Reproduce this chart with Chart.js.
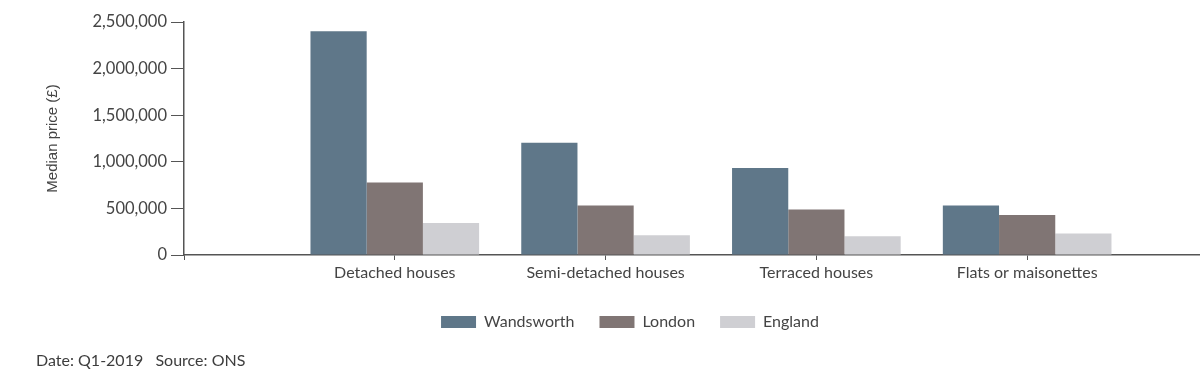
<!DOCTYPE html>
<html>
<head>
<meta charset="utf-8">
<script src="https://cdn.jsdelivr.net/npm/chart.js@4.4.1/dist/chart.umd.min.js"></script>
<style>
  html, body { margin: 0; padding: 0; background: #fff; }
  #wrap { position: relative; width: 1200px; height: 382px; }
  #footer { position: absolute; left: 36px; top: 350px; font-family: Lato, sans-serif; font-size: 16px; color: #3d3d3d; white-space: pre; }
</style>
</head>
<body>
<div id="wrap">
  <canvas id="c" width="1200" height="382"></canvas>
  <div id="footer">Date: Q1-2019   Source: ONS</div>
</div>
<script>
const categories = ['Detached houses', 'Semi-detached houses', 'Terraced houses', 'Flats or maisonettes'];
const wandsworth = [2400000, 1205000, 933000, 530000];
const london = [777000, 530000, 487000, 429000];
const england = [343000, 211000, 200000, 230000];
const yTicks = [0, 500000, 1000000, 1500000, 2000000, 2500000];

const positions = categories.map((c, i) => i + 1);
const toPoints = arr => arr.map((v, i) => ({ x: positions[i], y: v }));

const legendShift = {
  id: 'legendShift',
  afterLayout(chart) {
    const lg = chart.legend;
    if (lg) { lg.left += 11; lg.right += 11; }
  }
};

new Chart(document.getElementById('c'), {
  type: 'bar',
  data: {
    datasets: [
      { label: 'Wandsworth', data: toPoints(wandsworth), backgroundColor: '#5f7789' },
      { label: 'London', data: toPoints(london), backgroundColor: '#807574' },
      { label: 'England', data: toPoints(england), backgroundColor: '#cfcfd3' }
    ]
  },
  options: {
    responsive: false,
    animation: false,
    devicePixelRatio: 1,
    layout: { padding: { left: 38, right: 0, top: 22, bottom: 42 } },
    datasets: { bar: { barPercentage: 1, categoryPercentage: 0.8 } },
    plugins: {
      legend: {
        position: 'bottom',
        labels: { boxWidth: 35, boxHeight: 12, padding: 25, color: '#444', font: { family: 'Lato', size: 16 } }
      },
      tooltip: { enabled: false }
    },
    scales: {
      x: {
        type: 'linear',
        min: 0,
        max: 4.82,
        offset: false,
        afterBuildTicks(scale) { scale.ticks = [0].concat(positions).map(v => ({ value: v })); },
        afterFit(scale) { scale.height = 34; },
        ticks: {
          color: '#444',
          font: { family: 'Lato', size: 16 },
          padding: 3,
          maxRotation: 0,
          autoSkip: false,
          callback: (v) => (v >= 1 && v <= categories.length) ? categories[v - 1] : ''
        },
        grid: { offset: false, drawOnChartArea: false, drawTicks: true, tickLength: 5, color: '#555' },
        border: { display: true, color: '#555', width: 1.5 }
      },
      y: {
        min: 0,
        max: 2500000,
        afterBuildTicks(scale) { scale.ticks = yTicks.map(v => ({ value: v })); },
        afterFit(scale) { scale.width = 184 - 38; },
        ticks: {
          color: '#444',
          font: { family: 'Lato', size: 16.5 },
          padding: 4,
          callback: v => v.toLocaleString('en-GB')
        },
        grid: { drawOnChartArea: false, drawTicks: true, tickLength: 13, color: '#555' },
        border: { display: true, color: '#555', width: 1.5 },
        title: { display: true, text: 'Median price (£)', color: '#444', font: { family: 'Liberation Sans', size: 15 }, padding: { top: 6, bottom: 0 } }
      }
    }
  },
  plugins: [legendShift]
});
</script>
</body>
</html>
